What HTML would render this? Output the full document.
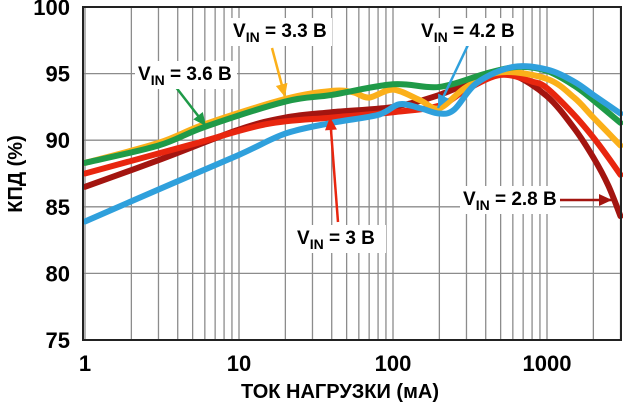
<!DOCTYPE html>
<html><head><meta charset="utf-8"><style>
html,body{margin:0;padding:0;background:#fff;}
svg{display:block;font-family:"Liberation Sans",Arial,sans-serif;font-weight:bold;}
</style></head><body>
<svg id="chart" width="623" height="405" viewBox="0 0 623 405">
<g id="grid"></g>
<g id="series"></g>
<rect x="83" y="7" width="538" height="333" fill="none" stroke="#222" stroke-width="2"/>
<g id="ticks"></g>
<text x="340" y="398" text-anchor="middle" font-size="20">ТОК НАГРУЗКИ (мА)</text>
<text transform="translate(22,174) rotate(-90)" text-anchor="middle" font-size="20">КПД (%)</text>
<g id="labels"></g>
</svg>
<script>
const yTicks=[75,80,85,90,95,100];
const xTicks=[1,10,100,1000];
const xTickLabels=["1","10","100","1000"];
const sGreenX=[1,3,6,20,40,100,200,400,650,1000,1500,2000,3000];
const sGreenY=[88.3,89.6,91,92.9,93.4,94.2,94,95,95.5,95.2,94.1,93.0,91.3];
const sOrangeX=[1,3,6,20,40,55,70,100,150,200,300,500,1000,1500,2000,3000];
const sOrangeY=[88.3,89.8,91.2,93.1,93.7,93.6,93.2,93.8,93,92.4,94,95.1,94.6,93.2,91.7,89.6];
const sBlueX=[1,3,10,20,40,80,110,150,200,250,350,600,1000,1500,2000,3000];
const sBlueY=[83.9,86.3,88.9,90.5,91.3,91.9,92.7,92.4,92,92.3,94.3,95.5,95.3,94.4,93.4,92];
const sRedX=[1,5,15,40,100,200,300,500,800,1000,1500,2000,2500,3000];
const sRedY=[87.5,89.7,91.2,91.7,92.1,92.6,93.8,94.9,94.4,93.9,91.9,90.2,88.7,87.4];
const sDarkX=[1,3,10,20,40,100,200,400,600,1000,1500,2000,2500,3000];
const sDarkY=[86.5,88.5,90.8,91.7,92.1,92.5,93.4,94.8,94.9,93.3,90.9,88.7,86.6,84.3];
const NS="http://www.w3.org/2000/svg";
const X0=85,DEC=154,YT=7,YB=340;
function xs(v){return X0+Math.log10(v)*DEC;}
function ys(v){return YB-(v-75)/25*(YB-YT);}
function el(t,a,p){const e=document.createElementNS(NS,t);for(const k in a)e.setAttribute(k,a[k]);p.appendChild(e);return e;}
const grid=document.getElementById('grid');
for(let d=1;d<=1000;d*=10){for(let m=1;m<=9;m++){const v=d*m;if(v>3000)break;const x=xs(v);if(x<84)continue;
const l=el('line',{x1:x,x2:x,y1:YT,y2:YB,stroke:'#8c8c8c','stroke-width':1.3},grid);

}}
for(const v of yTicks){const l=el('line',{x1:83,x2:621,y1:ys(v),y2:ys(v),stroke:'#8c8c8c','stroke-width':1.3},grid);

}
const ticks=document.getElementById('ticks');
for(const v of yTicks){const t=el('text',{x:70,y:ys(v)+8,'text-anchor':'end','font-size':22},ticks);t.textContent=v;

}
xTicks.forEach((v,i)=>{const t=el('text',{x:xs(v),y:371,'text-anchor':'middle','font-size':22},ticks);t.textContent=xTickLabels[i];

});
function path(X,Y){const p=X.map((x,i)=>[xs(x),ys(Y[i])]);let d='M'+p[0][0]+','+p[0][1];
for(let i=0;i<p.length-1;i++){const a=p[i-1]||p[i],b=p[i],c=p[i+1],e=p[i+2]||c;
d+=' C'+(b[0]+(c[0]-a[0])/6)+','+(b[1]+(c[1]-a[1])/6)+' '+(c[0]-(e[0]-b[0])/6)+','+(c[1]-(e[1]-b[1])/6)+' '+c[0]+','+c[1];}return d;}
const series=document.getElementById('series');
[[sDarkX,sDarkY,'#a31510','series-vin-2-8'],[sRedX,sRedY,'#e8260f','series-vin-3'],[sOrangeX,sOrangeY,'#fbb01a','series-vin-3-3'],[sGreenX,sGreenY,'#1f9a48','series-vin-3-6'],[sBlueX,sBlueY,'#2fa0dc','series-vin-4-2']].forEach(s=>{
const p=el('path',{d:path(s[0],s[1]),fill:'none',stroke:s[2],'stroke-width':6,'stroke-linecap':'round','stroke-linejoin':'round'},series);

});
const labels=document.getElementById('labels');
function label(x,y,w,num,col,ax1,ay1,ax2,ay2,name){
const g=el('g',{},labels);


el('line',{x1:ax1,y1:ay1,x2:ax2,y2:ay2,stroke:col,'stroke-width':2.5},g);
const ang=Math.atan2(ay2-ay1,ax2-ax1),L=13,W=6;
el('polygon',{points:[ax2,ay2,ax2-L*Math.cos(ang)+W*Math.sin(ang),ay2-L*Math.sin(ang)-W*Math.cos(ang),ax2-L*Math.cos(ang)-W*Math.sin(ang),ay2-L*Math.sin(ang)+W*Math.cos(ang)].join(' '),fill:col},g);
el('rect',{x:x-3,y:y-19,width:w,height:28,fill:'#fff'},g);
const t=el('text',{x:x,y:y,'font-size':19},g);
t.innerHTML='V<tspan font-size="14" dy="5">IN</tspan><tspan dy="-5"> = '+num+' В</tspan>';}
label(233,37,102,'3.3','#fbb01a',272,48,285,97,'label-vin-3-3');
label(138,80,102,'3.6','#1f9a48',175,86,206,126,'label-vin-3-6');
label(421,37,102,'4.2','#2fa0dc',468,45,438,108,'label-vin-4-2');
label(297,244,92,'3','#e8260f',338,222,330,117,'label-vin-3');
label(463,205,100,'2.8','#a31510',560,200,612,200,'label-vin-2-8');
</script>
</body></html>
